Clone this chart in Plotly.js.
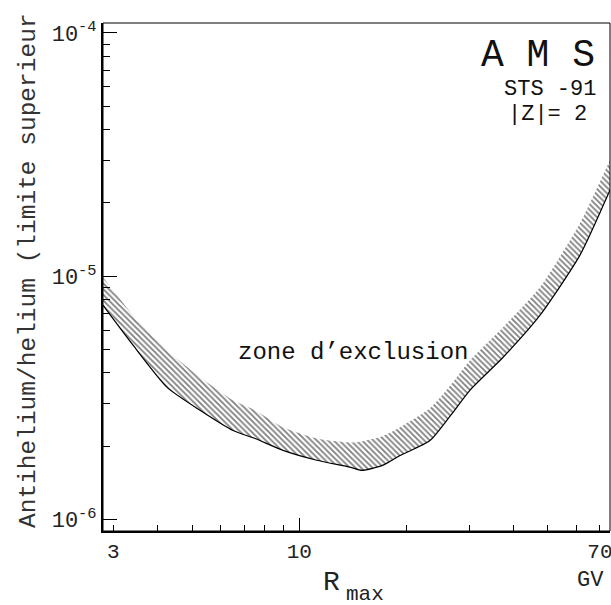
<!DOCTYPE html>
<html>
<head>
<meta charset="utf-8">
<script src="https://cdn.plot.ly/plotly-3.0.1.min.js"></script>
<style>html,body{margin:0;padding:0;background:#fff;}#chart{width:611px;height:605px;}</style>
</head>
<body>
<div id="chart"></div>
<script>
// Rigidity R_max (GV)
const rigidity = [2.806, 3.41, 4.25, 5.26, 6.51, 7.51, 9.0, 11.2, 13.89, 15.0, 17.2, 19.2, 23.3, 26.5, 30.2, 37.4, 47.5, 61.5, 74.7];
// Upper edge of the hatched band
const upperLimit = [9.91e-6, 6.91e-6, 4.96e-6, 3.84e-6, 3.09e-6, 2.81e-6, 2.39e-6, 2.15e-6, 2.07e-6, 2.09e-6, 2.20e-6, 2.39e-6, 2.86e-6, 3.53e-6, 4.51e-6, 6.17e-6, 9.01e-6, 1.65e-5, 3.00e-5];
// Lower edge (solid line)
const lowerLimit = [7.60e-6, 5.20e-6, 3.49e-6, 2.81e-6, 2.32e-6, 2.15e-6, 1.92e-6, 1.75e-6, 1.64e-6, 1.59e-6, 1.67e-6, 1.83e-6, 2.11e-6, 2.65e-6, 3.40e-6, 4.64e-6, 6.91e-6, 1.22e-5, 2.26e-5];

const xTickVals = [3, 4, 5, 6, 7, 8, 9, 10, 20, 30, 40, 50, 60, 70];
const xTickText = ['3', '', '', '', '', '', '', '10', '', '', '', '', '', '70'];
const xMajorVals = [10];
const yTickVals = [1e-6, 1e-5, 1e-4];
const yTickText = ['10<sup>-6</sup>', '10<sup>-5</sup>', '10<sup>-4</sup>'];
const yMinorVals = [2e-6, 3e-6, 4e-6, 5e-6, 6e-6, 7e-6, 8e-6, 9e-6, 2e-5, 3e-5, 4e-5, 5e-5, 6e-5, 7e-5, 8e-5, 9e-5];

const FONT = 'Liberation Mono, DejaVu Sans Mono, monospace';
const xRange = [Math.log10(2.807), Math.log10(74.7)];
const yRange = [-6.048, -3.959];

const traces = [
  {x: rigidity, y: upperLimit, type: 'scatter', mode: 'lines', line: {width: 0, color: 'rgba(0,0,0,0)', shape: 'spline', smoothing: 0.6}, hoverinfo: 'skip', showlegend: false},
  {x: rigidity, y: lowerLimit, type: 'scatter', mode: 'lines', line: {width: 1.2, color: '#000', shape: 'spline', smoothing: 0.6},
   fill: 'tonexty', fillcolor: 'rgba(0,0,0,0)',
   fillpattern: {shape: '\\', fgcolor: '#000', bgcolor: 'rgba(0,0,0,0)', size: 4, solidity: 0.45, fillmode: 'overlay'},
   showlegend: false},
  {x: [10], y: [1e-5], xaxis: 'x2', yaxis: 'y2', type: 'scatter', mode: 'markers', marker: {opacity: 0}, hoverinfo: 'skip', showlegend: false}
];

const layout = {
  width: 611, height: 605,
  margin: {l: 103, r: 1, t: 23, b: 74},
  paper_bgcolor: '#fff', plot_bgcolor: '#fff',
  showlegend: false,
  font: {family: FONT, color: '#222', size: 22},
  xaxis: {
    type: 'log', range: xRange, tickmode: 'array', tickvals: xTickVals, ticktext: xTickText,
    ticks: 'inside', ticklen: 6, tickwidth: 1, tickcolor: '#000',
    showline: true, linewidth: 2, linecolor: '#000', showgrid: false, zeroline: false,
    tickfont: {family: FONT, size: 21, color: '#222'}, ticklabelstandoff: 0, ticklabeloverflow: 'allow'
  },
  xaxis2: {
    type: 'log', range: xRange, overlaying: 'x', anchor: 'y2', side: 'bottom',
    tickmode: 'array', tickvals: xMajorVals, ticktext: [''], ticks: 'inside', ticklen: 13, tickwidth: 1, tickcolor: '#000',
    showticklabels: false, showline: false, showgrid: false, zeroline: false
  },
  yaxis: {
    type: 'log', range: yRange, tickmode: 'array', tickvals: yTickVals, ticktext: yTickText,
    ticks: 'inside', ticklen: 14, tickwidth: 1, tickcolor: '#000',
    showline: true, linewidth: 2, linecolor: '#000', showgrid: false, zeroline: false,
    tickfont: {family: FONT, size: 22, color: '#222'}, ticklabeloverflow: 'allow'
  },
  yaxis2: {
    type: 'log', range: yRange, overlaying: 'y', anchor: 'x2', side: 'left',
    tickmode: 'array', tickvals: yMinorVals, ticks: 'inside', ticklen: 7, tickwidth: 1, tickcolor: '#000',
    showticklabels: false, showline: false, showgrid: false, zeroline: false
  },
  shapes: [
    {type: 'rect', xref: 'paper', yref: 'paper', x0: 0, x1: 1, y0: 0, y1: 1, line: {color: '#000', width: 1}, layer: 'above'}
  ],
  annotations: [
    {text: 'Antihelium/helium (limite superieur', textangle: -90, xref: 'paper', yref: 'paper',
     x: (13 - 103) / 507, y: (531 - 530) / 508, xanchor: 'left', yanchor: 'bottom', showarrow: false,
     font: {family: FONT, size: 24.5, color: '#333'}},
    {text: 'A M S', xref: 'paper', yref: 'paper', x: (597 - 103) / 507, y: (531 - 55) / 508,
     xanchor: 'right', yanchor: 'middle', showarrow: false, font: {family: FONT, size: 38, color: '#111'}},
    {text: 'STS -91', xref: 'paper', yref: 'paper', x: (598 - 103) / 507, y: (531 - 89) / 508,
     xanchor: 'right', yanchor: 'middle', showarrow: false, font: {family: FONT, size: 22, color: '#111'}},
    {text: '|Z|= 2', xref: 'paper', yref: 'paper', x: (589 - 103) / 507, y: (531 - 114) / 508,
     xanchor: 'right', yanchor: 'middle', showarrow: false, font: {family: FONT, size: 22, color: '#111'}},
    {text: 'zone d’exclusion', xref: 'paper', yref: 'paper', x: (236 - 103) / 507, y: (531 - 352) / 508,
     xanchor: 'left', yanchor: 'middle', showarrow: false, font: {family: FONT, size: 24, color: '#111'}},
    {text: 'R', xref: 'paper', yref: 'paper', x: (321 - 103) / 507, y: (531 - 582) / 508,
     xanchor: 'left', yanchor: 'middle', showarrow: false, font: {family: FONT, size: 28, color: '#222'}},
    {text: 'max', xref: 'paper', yref: 'paper', x: (344 - 103) / 507, y: (531 - 594) / 508,
     xanchor: 'left', yanchor: 'middle', showarrow: false, font: {family: FONT, size: 21, color: '#222'}},
    {text: 'GV', xref: 'paper', yref: 'paper', x: (606 - 103) / 507, y: (531 - 580) / 508,
     xanchor: 'right', yanchor: 'middle', showarrow: false, font: {family: FONT, size: 22, color: '#222'}}
  ]
};

Plotly.newPlot('chart', traces, layout, {staticPlot: true, displayModeBar: false});
</script>
</body>
</html>
